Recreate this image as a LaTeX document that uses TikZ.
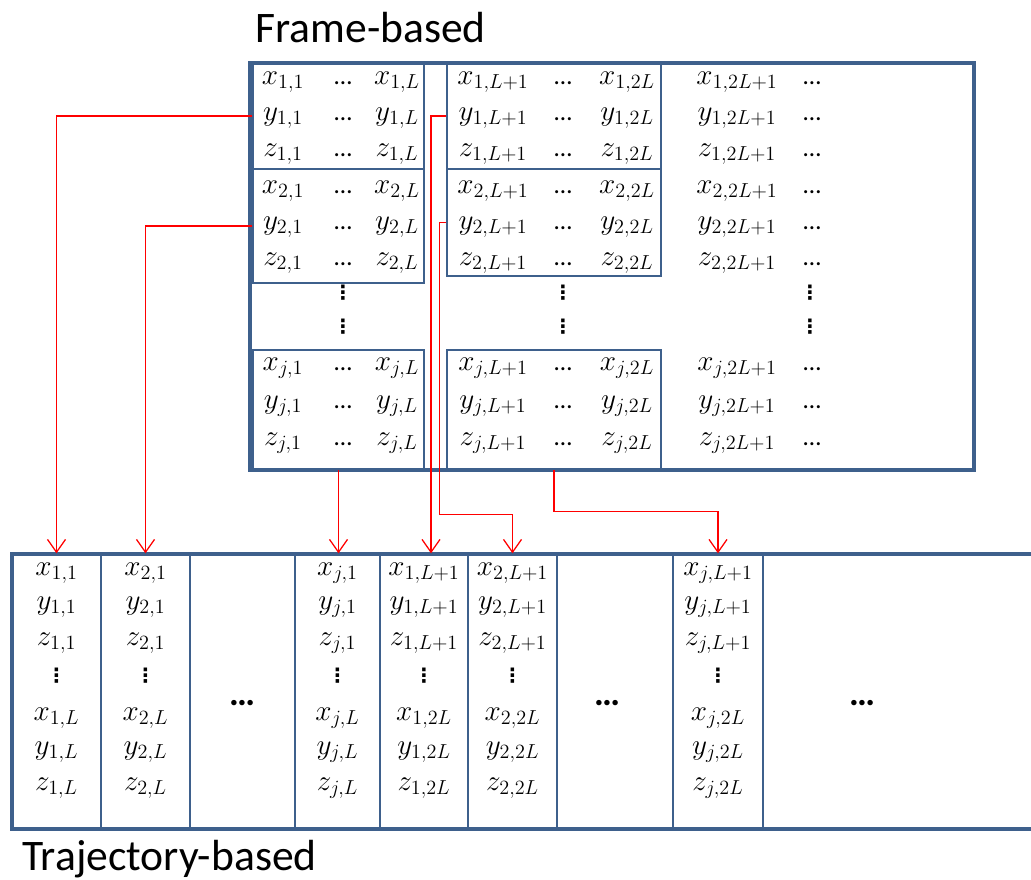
\documentclass[tikz,border=0pt]{standalone}
\usepackage{fontspec}
\setmainfont{Carlito}
\newfontfamily\simbolos{DejaVu Sans}
\usetikzlibrary{arrows.meta, fit}
\definecolor{azulmarco}{RGB}{62,96,140}
\tikzset{
    marco/.style={draw=azulmarco, line width=1mm, inner sep=0pt},
    caja/.style={draw=azulmarco, line width=0.35mm, inner sep=0pt},
    ent/.style={font=\fontsize{20}{24}\selectfont, inner sep=0pt, anchor=base},
    pts/.style={font=\fontsize{18}{22}\selectfont, inner sep=0pt, anchor=base},
    vpts/.style={font=\simbolos\fontsize{14}{16}\selectfont\bfseries, inner sep=0pt, anchor=center},
    puntos/.style={font=\fontsize{26}{30}\selectfont\bfseries, inner sep=0pt},
    titulo/.style={font=\fontsize{31}{36}\selectfont, inner sep=0pt, anchor=base west},
    link/.style={-{Straight Barb[length=3.2mm, width=4.5mm]}, red, line width=0.9pt}
}

\begin{document}
\begin{tikzpicture}[x=0.25mm, y=-0.25mm]
        \useasboundingbox (0,0) rectangle (1031,879);
        \clip (0,0) rectangle (1031,879);

        % Columnas (trajectory-based)
        \foreach \xl/\xr [count=\k] in {12/101, 101/190, 190/295, 295/380, 380/468, 468/557, 557/673, 673/763, 763/1045}
            \node[caja, fit={(\xl,554) (\xr,829)}] (c\k) {};
        \node[marco, fit={(12,554) (1045,829)}] (traj) {};
        \node[titulo] (tt) at (22,870) {Trajectory-based};

        \foreach \k/\lo/\hi in {1/{1,1}/{1,L}, 2/{2,1}/{2,L}, 4/{j,1}/{j,L}, 5/{1,L+1}/{1,2L}, 6/{2,L+1}/{2,2L}, 8/{j,L+1}/{j,2L}} {
            \foreach \v/\ya/\yb in {x/575/720, y/609/754, z/645/790} {
                \node[ent] (b\k-\v1) at (c\k |- 0,\ya) {$\v_{\lo}$};
                \node[ent] (b\k-\v2) at (c\k |- 0,\yb) {$\v_{\hi}$};
            }
            \node[vpts] (b\k-vd) at (c\k |- 0,676) {⋮};
        }
        \node[puntos] (p3) at (242,703) {\ldots};
        \node[puntos] (p7) at (607,703) {\ldots};
        \node[puntos] (p9) at (862,703) {\ldots};

        % Marco superior (frame-based)
        \node[titulo] (tf) at (255,42) {Frame-based};
        \node[caja, fit={(253,63) (424,169)}] (A1) {};
        \node[caja, fit={(253,169) (424,283)}] (A2) {};
        \node[caja, fit={(253,350) (424,469)}] (Aj) {};
        \node[caja, fit={(447,63) (661,169)}] (B1) {};
        \node[caja, fit={(447,169) (661,276)}] (B2) {};
        \node[caja, fit={(447,350) (661,469)}] (Bj) {};
        \node[marco, fit={(250,63) (974,470)}] (frame) {};

        \foreach \g/\ya/\yb/\yc in {1/84/120/156, 2/193/229/265, j/370/408/445} {
            \foreach \v/\yy in {x/\ya, y/\yb, z/\yc} {
                \node[ent] (a-\v\g) at (283,\yy) {$\v_{\g,1}$};
                \node[pts] (ad-\v\g) at (343,\yy) {\ldots};
                \node[ent] (aL-\v\g) at (397,\yy) {$\v_{\g,L}$};
                \node[ent] (b-\v\g) at (493,\yy) {$\v_{\g,L+1}$};
                \node[pts] (bd-\v\g) at (563,\yy) {\ldots};
                \node[ent] (bL-\v\g) at (627,\yy) {$\v_{\g,2L}$};
                \node[ent] (c-\v\g) at (737,\yy) {$\v_{\g,2L+1}$};
                \node[pts] (cd-\v\g) at (812,\yy) {\ldots};
            }
        }
        \foreach \xx [count=\i] in {343, 563, 810} {
            \node[vpts] (vs\i) at (\xx,293) {⋮};
            \node[vpts] (vi\i) at (\xx,327) {⋮};
        }

        % Flechas
        \draw[link] (A1.west) -| (c1.north);
        \draw[link] (A2.west) -| (c2.north);
        \draw[link] (Aj.south) -- (Aj.south |- c4.north);
        \draw[link] (B1.west) -| ([xshift=1.75mm]c5.north);
        \draw[link] (B2.west) -- ++(-7,0) |- ([yshift=9.75mm]c6.north) -- (c6.north);
        \draw[link] (Bj.south) |- ([yshift=10.5mm]c8.north) -- (c8.north);
    \end{tikzpicture}
\end{document}
